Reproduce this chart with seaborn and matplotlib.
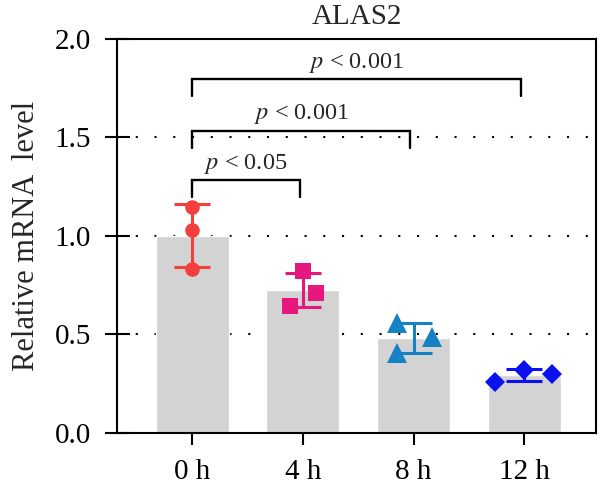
import numpy as np
import pandas as pd
import matplotlib
matplotlib.use('Agg')
import matplotlib.pyplot as plt
import seaborn as sns

# Values
groups = ['0 h', '4 h', '8 h', '12 h']
vals_0h = [1.145, 1.028, 0.830]
vals_4h = [0.821, 0.711, 0.646]
vals_8h = [0.558, 0.487, 0.406]
vals_12h = [0.261, 0.321, 0.300]
comparisons = [('0 h', '4 h', 'p < 0.05'),
               ('0 h', '8 h', 'p < 0.001'),
               ('0 h', '12 h', 'p < 0.001')]
yticks = [0.0, 0.5, 1.0, 1.5, 2.0]

# Style (not data): horizontal scatter of the points, markers, colours
jitter = [[0.0, 0.0, 0.0],
          [0.0, 0.12, -0.12],
          [-0.15, 0.17, -0.15],
          [-0.26, 0.0, 0.25]]
markers = ['o', 's', '^', 'D']
msizes = [10.5, 11.3, 14, 10]
colors = ['#F4403C', '#E6187E', '#1782C3', '#0A10EE']
bracket_y = [1.284, 1.533, 1.796]

sns.set_theme(style='ticks')
plt.rcParams['font.family'] = ['Liberation Serif', 'DejaVu Serif']
plt.rcParams['mathtext.fontset'] = 'stix'

all_vals = [vals_0h, vals_4h, vals_8h, vals_12h]
df = pd.DataFrame({
    'group': np.repeat(groups, [len(v) for v in all_vals]),
    'value': np.concatenate(all_vals),
})

fig = plt.figure(figsize=(6, 4.86), dpi=100)
ax = fig.add_axes([0.1955, 0.109, 0.7978, 0.811])

sns.barplot(data=df, x='group', y='value', order=groups, estimator='mean',
            errorbar=None, color='#D3D3D3', saturation=1, width=0.66, ax=ax,
            zorder=2)

# dotted horizontal grid behind the bars
for yv in yticks[1:-1]:
    ax.axhline(yv, color='black', lw=1.5, linestyle=(0, (1, 8)), zorder=1)

# points and mean +/- SD error bars
for i, vals in enumerate(all_vals):
    v = np.array(vals)
    xs = i + np.array(jitter[i])
    ax.errorbar(i, v.mean(), yerr=v.std(ddof=1), color=colors[i], lw=2.2,
                capsize=13, capthick=2.2, zorder=3)
    ax.plot(xs, v, linestyle='none', marker=markers[i], markersize=msizes[i],
            color=colors[i], markeredgewidth=0, zorder=4)

# significance brackets
for (g1, g2, txt), by in zip(comparisons, bracket_y):
    x1 = groups.index(g1)
    x2 = groups.index(g2) - 0.03
    ax.plot([x1, x1, x2, x2], [by - 0.085, by, by, by - 0.085],
            color='black', lw=1.7, zorder=5, solid_joinstyle='miter')
    label = '$p$' + txt[1:]
    ax.text((x1 + x2) / 2, by + 0.058, label, ha='center', va='baseline',
            fontsize=17.5)

ax.set_xlim(-0.677, 3.648)
ax.set_ylim(0, 2.0)
ax.set_yticks(yticks)
ax.set_yticklabels([f'{t:.1f}' for t in yticks])
ax.set_xlabel('')
ax.set_ylabel('Relative mRNA  level', fontsize=22, labelpad=10)
ax.set_title('ALAS2', fontsize=21, pad=11)

for side in ['left', 'right', 'top', 'bottom']:
    ax.spines[side].set_visible(True)
    ax.spines[side].set_linewidth(1.5)
    ax.spines[side].set_color('black')
ax.tick_params(axis='y', direction='inout', length=18, width=1.5,
               labelsize=21, pad=10, colors='black')
ax.tick_params(axis='x', direction='out', length=8.5, width=1.5,
               labelsize=21, pad=10, colors='black')

fig.savefig('out.png', dpi=100)
